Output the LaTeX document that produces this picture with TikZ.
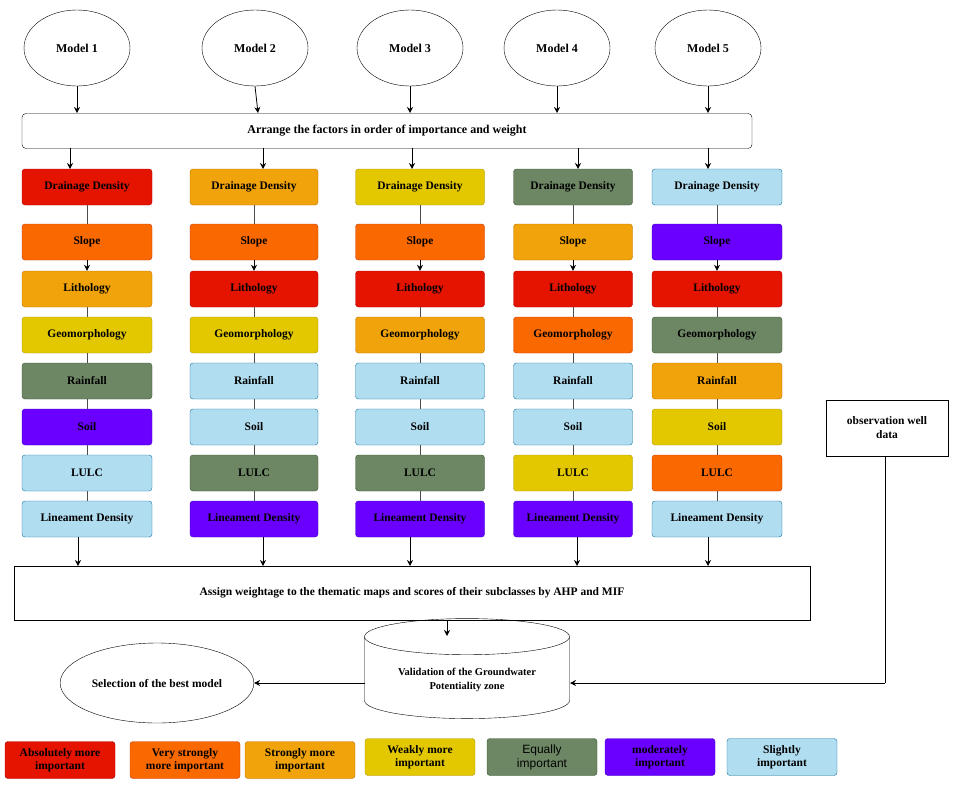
\documentclass[tikz,border=0pt]{standalone}
\usepackage{fontspec}
\setmainfont{Liberation Serif}
\usetikzlibrary{shapes.geometric,arrows.meta}
\definecolor{cRed}{HTML}{E51400}
\definecolor{cOra}{HTML}{FA6800}
\definecolor{cAmb}{HTML}{F0A30A}
\definecolor{cYel}{HTML}{E3C800}
\definecolor{cGrn}{HTML}{6D8764}
\definecolor{cPur}{HTML}{6A00FF}
\definecolor{cLb}{HTML}{B1DDF0}
\definecolor{bRed}{HTML}{B20000}
\definecolor{bOra}{HTML}{C73500}
\definecolor{bAmb}{HTML}{BD7000}
\definecolor{bYel}{HTML}{B09500}
\definecolor{bGrn}{HTML}{3A5431}
\definecolor{bPur}{HTML}{3700CC}
\definecolor{bLb}{HTML}{10739E}
\tikzset{
 x=1pt,y=-1pt,
 fac/.style={draw=b#1,fill=c#1,rounded corners=3pt,minimum height=36pt,inner sep=1pt,font=\bfseries\fontsize{11.5}{13}\selectfont,text=black},
 leg/.style={draw=b#1,fill=c#1,rounded corners=3pt,minimum height=37pt,minimum width=110pt,align=center,inner sep=1pt,font=\bfseries\fontsize{11.5}{13}\selectfont},
 mdl/.style={draw,ellipse,minimum width=106pt,minimum height=76pt,font=\bfseries\fontsize{12}{14}\selectfont},
 wbox/.style={draw,rounded corners=4pt,font=\bfseries\fontsize{12}{14}\selectfont},
 arr/.style={-{Stealth[length=6pt,width=6pt]},line width=0.8pt},
 ln/.style={line width=0.8pt,draw=black!70}
}
\begin{document}
\begin{tikzpicture}
\useasboundingbox (0,0) rectangle (958,792);
% models
\foreach \i/\x in {1/77,2/255,3/410,4/557,5/708}
  \node[mdl] (m\i) at (\x,48) {Model \i};
\node[wbox,minimum width=730pt,minimum height=35pt] (arr) at (387,131) {Arrange the factors in order of importance and weight};
\foreach \i/\x in {1/77,2/258,3/410,4/557,5/708}
  \draw[arr] (m\i.south) -- (\x,113);
% columns
\def\rows{187,242,289,335,381,427,473,519}
\foreach \c/\x/\w/\cols in {
 1/87/130/{Red,Ora,Amb,Yel,Grn,Pur,Lb,Lb},
 2/254/128/{Amb,Ora,Red,Yel,Lb,Lb,Grn,Pur},
 3/420/129/{Yel,Ora,Red,Amb,Lb,Lb,Grn,Pur},
 4/573/119/{Grn,Amb,Red,Ora,Lb,Lb,Yel,Pur},
 5/717/130/{Lb,Pur,Red,Grn,Amb,Yel,Ora,Lb}}{
  \foreach \lab [count=\r] in {Drainage Density,Slope,Lithology,Geomorphology,Rainfall,Soil,LULC,Lineament Density}{
    \pgfmathparse{{\rows}[\r-1]}\let\yy\pgfmathresult
    \pgfmathparse{{"\cols"}}%
    \foreach \cc [count=\k] in \cols { \ifnum\k=\r \xdef\curcol{\cc}\fi }
    \node[fac=\curcol,minimum width=\w pt] (c\c r\r) at (\x,\yy) {\lab};
  }
}
\foreach \c in {1,...,5}{
  \foreach \r [evaluate=\r as \n using int(\r+1)] in {1,3,4,5,6,7}
    \draw[ln] (c\c r\r.south) -- (c\c r\n.north);
  \draw[arr] (c\c r2.south) -- (c\c r3.north);
}
% arrows from arrange box
\foreach \c/\x in {1/70,2/263,3/412,4/578,5/708}
  \draw[arr] (\x,148) -- (\x,169);
% assign box
\node[draw,minimum width=796pt,minimum height=54pt,font=\bfseries\fontsize{11.5}{13}\selectfont] (asg) at (412,593) {Assign weightage to the thematic maps and scores of their subclasses by AHP and MIF};
\foreach \c/\x in {1/78,2/263,3/410,4/577,5/708}
  \draw[arr] (\x,537) -- (\x,566);
% cylinder
\node[draw,cylinder,shape border rotate=90,aspect=0.25,minimum width=205pt,minimum height=100pt,align=center,font=\bfseries\fontsize{10.5}{14}\selectfont] (val) at (467,680) {Validation of the Groundwater\\Potentiality zone};
\draw[arr] (447,620) -- (447,636);
\node[draw,ellipse,minimum width=172pt,minimum height=80pt,font=\bfseries\fontsize{11.5}{13}\selectfont] (sel) at (157,683) {Selection of the best model};
\draw[arr] (365,683) -- (sel.east);
\node[draw,minimum width=122pt,minimum height=56pt,align=center,font=\bfseries\fontsize{11.5}{14}\selectfont] (obs) at (887,428) {observation well\\data};
\coordinate (k) at (885,683);
\draw[ln,draw=black] (885,456) -- (k);
\draw[arr] (k) -- (570,683);
% legend
\node[leg=Red] (l1) at (60,760) {Absolutely more\\important};
\node[leg=Ora] (l2) at (185,760) {Very strongly\\more important};
\node[leg=Amb] (l3) at (300,760) {Strongly more\\important};
\node[leg=Yel] (l4) at (420,757) {Weakly more\\important};
\node[leg=Grn,font=\fontspec{Liberation Sans}\fontsize{12}{14}\selectfont] (l5) at (542,757) {Equally\\important};
\node[leg=Pur] (l6) at (660,757) {moderately\\important};
\node[leg=Lb] (l7) at (782,757) {Slightly\\important};
\end{tikzpicture}
\end{document}
